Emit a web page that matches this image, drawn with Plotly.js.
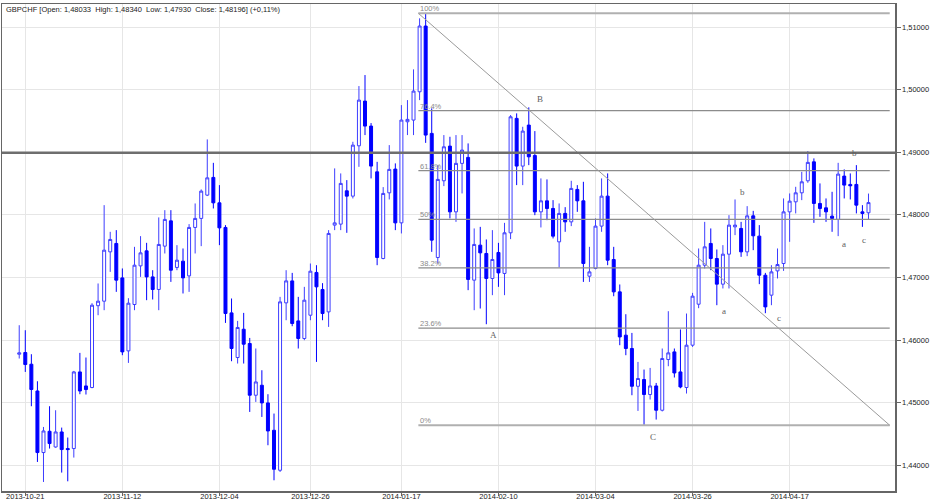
<!DOCTYPE html>
<html><head><meta charset="utf-8">
<script src="https://cdn.plot.ly/plotly-3.0.1.min.js"></script>
<style>html,body{margin:0;padding:0;background:#fff}#chart{width:940px;height:503px}</style>
</head><body><div id="chart"></div>
<script>
const openP = [1.45774,1.45801,1.45614,1.45187,1.44203,1.44543,1.44292,1.44532,1.44267,1.44267,1.45491,1.45267,1.45242,1.46549,1.46621,1.47409,1.47543,1.46993,1.45827,1.46568,1.47185,1.47425,1.47009,1.46808,1.47500,1.47904,1.47160,1.47260,1.47025,1.47799,1.47943,1.48315,1.48598,1.48192,1.47799,1.46434,1.45721,1.46173,1.45945,1.45119,1.45278,1.44996,1.44559,1.43920,1.46594,1.46945,1.46306,1.46025,1.46397,1.47080,1.46808,1.46450,1.47836,1.47852,1.48384,1.48299,1.49103,1.49817,1.49418,1.48687,1.47303,1.48352,1.48731,1.47872,1.49487,1.49514,1.49966,1.51016,1.49301,1.47319,1.48544,1.49098,1.48048,1.48822,1.48918,1.46957,1.47516,1.47383,1.46984,1.47399,1.47064,1.47713,1.49541,1.48779,1.49434,1.48949,1.48048,1.48224,1.48102,1.47569,1.48023,1.47888,1.48406,1.48224,1.47020,1.47144,1.47820,1.48299,1.47287,1.46770,1.46078,1.45865,1.45262,1.45370,1.45130,1.45267,1.44879,1.45689,1.45811,1.45491,1.45242,1.45918,1.46573,1.47196,1.47543,1.47303,1.46893,1.47372,1.47808,1.47783,1.47409,1.47984,1.47660,1.47036,1.46717,1.47105,1.47223,1.48048,1.48208,1.48352,1.48544,1.48847,1.48182,1.48112,1.47979,1.47927,1.48619,1.48486,1.48486,1.48048,1.48033];
const highP = [1.46237,1.46157,1.45774,1.45342,1.44612,1.44943,1.44879,1.44602,1.44443,1.45507,1.45795,1.45721,1.46589,1.46904,1.48155,1.47729,1.47756,1.47144,1.46669,1.47489,1.47660,1.47553,1.47116,1.47959,1.48075,1.48075,1.47516,1.47463,1.47852,1.48182,1.48406,1.49205,1.48831,1.48475,1.47836,1.46664,1.46306,1.46434,1.46034,1.45865,1.45518,1.45135,1.44826,1.46690,1.47116,1.47073,1.46690,1.46850,1.47223,1.47196,1.46909,1.47756,1.48742,1.48662,1.48555,1.49167,1.50057,1.50233,1.49466,1.48847,1.48443,1.49114,1.48822,1.49753,1.49833,1.50324,1.51139,1.51219,1.49701,1.48794,1.49274,1.49247,1.49274,1.49274,1.49141,1.47783,1.47808,1.47607,1.47756,1.47553,1.47872,1.49594,1.49621,1.49407,1.49717,1.49338,1.48582,1.48566,1.48235,1.48182,1.48123,1.48544,1.48475,1.48528,1.47489,1.47943,1.48582,1.48662,1.47489,1.46888,1.46413,1.46114,1.45651,1.45529,1.45555,1.45315,1.45865,1.46461,1.45865,1.46169,1.46424,1.46754,1.47463,1.47888,1.47783,1.47447,1.47516,1.47995,1.48246,1.47888,1.48139,1.48064,1.47836,1.47073,1.47196,1.47463,1.48262,1.48342,1.48448,1.48687,1.49018,1.48902,1.48502,1.48262,1.48368,1.48831,1.48726,1.48662,1.48794,1.48155,1.48340];
const lowP = [1.45705,1.45491,1.44943,1.44053,1.43733,1.44267,1.44280,1.43883,1.43744,1.44123,1.45135,1.45130,1.45230,1.46397,1.46477,1.47089,1.46770,1.45758,1.45635,1.46477,1.47009,1.46637,1.46648,1.46477,1.47383,1.46929,1.47116,1.46744,1.46770,1.47383,1.47500,1.48300,1.48102,1.47516,1.46274,1.45662,1.45625,1.45625,1.44852,1.45012,1.44772,1.44320,1.43760,1.43893,1.46317,1.46221,1.45865,1.45998,1.46317,1.45651,1.46317,1.46210,1.47756,1.47756,1.47713,1.48262,1.48767,1.49274,1.48582,1.47196,1.47290,1.48246,1.47756,1.47703,1.49274,1.49274,1.49833,1.49150,1.47409,1.47223,1.48459,1.47943,1.47888,1.48342,1.46797,1.46477,1.46504,1.46253,1.46717,1.46850,1.46717,1.47612,1.48475,1.48475,1.48794,1.47995,1.47799,1.47915,1.47623,1.47160,1.47729,1.47820,1.48048,1.46929,1.46929,1.47130,1.47729,1.47196,1.46700,1.45918,1.45758,1.45119,1.44868,1.44639,1.45050,1.44730,1.44860,1.45582,1.45402,1.45230,1.45146,1.45890,1.46509,1.47144,1.47116,1.46557,1.46824,1.46824,1.47676,1.47329,1.47340,1.47436,1.46893,1.46429,1.46557,1.46984,1.47105,1.47569,1.48023,1.48235,1.48512,1.47872,1.47968,1.47888,1.47729,1.47660,1.48262,1.48246,1.48023,1.47808,1.47930];
const closeP = [1.45795,1.45609,1.45210,1.44203,1.44548,1.44347,1.44532,1.44251,1.44251,1.45491,1.45187,1.45210,1.46557,1.46621,1.47436,1.47607,1.46957,1.45811,1.46589,1.47196,1.47393,1.47009,1.46808,1.47527,1.47927,1.47116,1.47276,1.46993,1.47799,1.47943,1.48379,1.48591,1.48192,1.47792,1.46424,1.45865,1.46201,1.45934,1.45119,1.45331,1.44996,1.44548,1.43936,1.46610,1.46945,1.46264,1.46025,1.46637,1.47100,1.46850,1.46424,1.47703,1.47872,1.48502,1.48299,1.49114,1.49833,1.49418,1.48779,1.47319,1.48342,1.48726,1.47872,1.49514,1.49525,1.49977,1.51016,1.49274,1.47596,1.48566,1.49087,1.48048,1.48822,1.49034,1.46968,1.47527,1.47393,1.46984,1.47287,1.47073,1.47713,1.49566,1.48779,1.49338,1.48927,1.48048,1.48224,1.48102,1.47660,1.48023,1.47888,1.48422,1.48224,1.47223,1.47089,1.47820,1.48299,1.47276,1.46770,1.46050,1.45865,1.45262,1.45386,1.45130,1.45267,1.44879,1.45705,1.45795,1.45475,1.45251,1.45918,1.46701,1.47196,1.47489,1.47303,1.46893,1.47372,1.47836,1.47836,1.47409,1.47984,1.47665,1.47036,1.46530,1.47089,1.47207,1.48048,1.48219,1.48352,1.48528,1.48838,1.48182,1.48102,1.48048,1.47943,1.48651,1.48475,1.48464,1.48155,1.48023,1.48196];

const tickIdx = [1, 17, 33, 48, 63, 79, 95, 111, 127];
const tickDates = ['2013-10-21','2013-11-12','2013-12-04','2013-12-26','2014-01-17','2014-02-10','2014-03-04','2014-03-26','2014-04-17'];
const yTickVals = [1.44, 1.45, 1.46, 1.47, 1.48, 1.49, 1.50, 1.51];
const yTickText = ['1,44000','1,45000','1,46000','1,47000','1,48000','1,49000','1,50000','1,51000'];

const fibHigh = 1.51219, fibLow = 1.44639;
const fibStartX = 65.8, fibEndX = 143.5;
const fibRatios = [0, 0.236, 0.382, 0.5, 0.618, 0.764, 1];
const fibLabels = ['0%', '23.6%', '38.2%', '50%', '61.8%', '76.4%', '100%'];
const resistance = 1.4899;

const waveLabels = ['A', 'B', 'C', 'b', 'a', 'c', 'b', 'a', 'c'];
const waveX = [78.2, 85.9, 104.5, 119.3, 116.2, 125.3, 137.7, 135.9, 139.3];
const waveY = [1.46078, 1.49849, 1.44452, 1.48358, 1.46466, 1.46354, 1.48991, 1.47527, 1.47596];

const headerText = 'GBPCHF [Open: 1,48033  High: 1,48340  Low: 1,47930  Close: 1,48196] (+0,11%)';

const xIdx = openP.map((_, i) => i);

const trace = {
  type: 'candlestick',
  x: xIdx, open: openP, high: highP, low: lowP, close: closeP,
  increasing: {line: {color: '#3d3dff', width: 1}, fillcolor: '#ffffff'},
  decreasing: {line: {color: '#0000ff', width: 1}, fillcolor: '#0000ff'},
  whiskerwidth: 0,
  hoverinfo: 'skip'
};

const shapes = [];
fibRatios.forEach((r, k) => {
  const lvl = fibLow + r * (fibHigh - fibLow);
  const edge = (r === 0 || r === 1);
  shapes.push({type: 'line', xref: 'x', yref: 'y', x0: fibStartX, x1: fibEndX, y0: lvl, y1: lvl,
    line: {color: edge ? '#b0b0b0' : '#8c8c8c', width: edge ? 2 : 1.2}});
});
shapes.push({type: 'line', xref: 'x', yref: 'y', x0: fibStartX, x1: fibEndX, y0: fibHigh, y1: fibLow,
  line: {color: '#9a9a9a', width: 1}});
shapes.push({type: 'line', xref: 'paper', yref: 'y', x0: 0, x1: 1, y0: resistance, y1: resistance,
  line: {color: '#6e6e6e', width: 2.5}});

const annotations = [];
fibRatios.forEach((r, k) => {
  annotations.push({xref: 'x', yref: 'y', x: fibStartX, y: fibLow + r * (fibHigh - fibLow),
    text: fibLabels[k], showarrow: false, xanchor: 'left', yanchor: 'bottom', yshift: -2,
    font: {family: 'Liberation Sans, Arial, sans-serif', size: 7.5, color: '#8a8a8a'}});
});
waveLabels.forEach((t, k) => {
  annotations.push({xref: 'x', yref: 'y', x: waveX[k], y: waveY[k], text: t, showarrow: false,
    xanchor: 'center', yanchor: 'middle',
    font: {family: 'Liberation Serif, Times New Roman, serif', size: 9, color: '#606060'}});
});
annotations.push({xref: 'paper', yref: 'paper', x: 0, y: 1, xanchor: 'left', yanchor: 'top',
  xshift: 2, yshift: 1, text: headerText, showarrow: false,
  font: {family: 'Liberation Sans, Arial, sans-serif', size: 7.5, color: '#222222'}});

const layout = {
  width: 940, height: 503,
  margin: {l: 2, r: 45, t: 4, b: 12, pad: 0},
  paper_bgcolor: '#ffffff', plot_bgcolor: '#ffffff',
  showlegend: false,
  boxgap: 0.3,
  xaxis: {
    range: [-2.84, 144.37], type: 'linear',
    tickmode: 'array', tickvals: tickIdx, ticktext: tickDates,
    showgrid: true, gridcolor: '#e6e6e6', gridwidth: 1,
    zeroline: false, showline: true, linecolor: '#666666', linewidth: 1.5, mirror: true,
    ticks: 'outside', ticklen: 3, tickcolor: '#666666',
    ticklabelstandoff: -6,
    tickfont: {family: 'Liberation Sans, Arial, sans-serif', size: 7.5, color: '#222222'},
    rangeslider: {visible: false}, automargin: false, fixedrange: true
  },
  yaxis: {
    range: [1.43589, 1.51368], side: 'right',
    tickmode: 'array', tickvals: yTickVals, ticktext: yTickText,
    showgrid: true, gridcolor: '#e6e6e6', gridwidth: 1,
    zeroline: false, showline: true, linecolor: '#666666', linewidth: 1.5, mirror: true,
    ticks: 'outside', ticklen: 4, tickcolor: '#666666',
    tickfont: {family: 'Liberation Sans, Arial, sans-serif', size: 7.5, color: '#222222'},
    automargin: false, fixedrange: true
  },
  shapes: shapes,
  annotations: annotations,
  hovermode: false
};

Plotly.newPlot('chart', [trace], layout, {staticPlot: true, displayModeBar: false});
</script></body></html>
